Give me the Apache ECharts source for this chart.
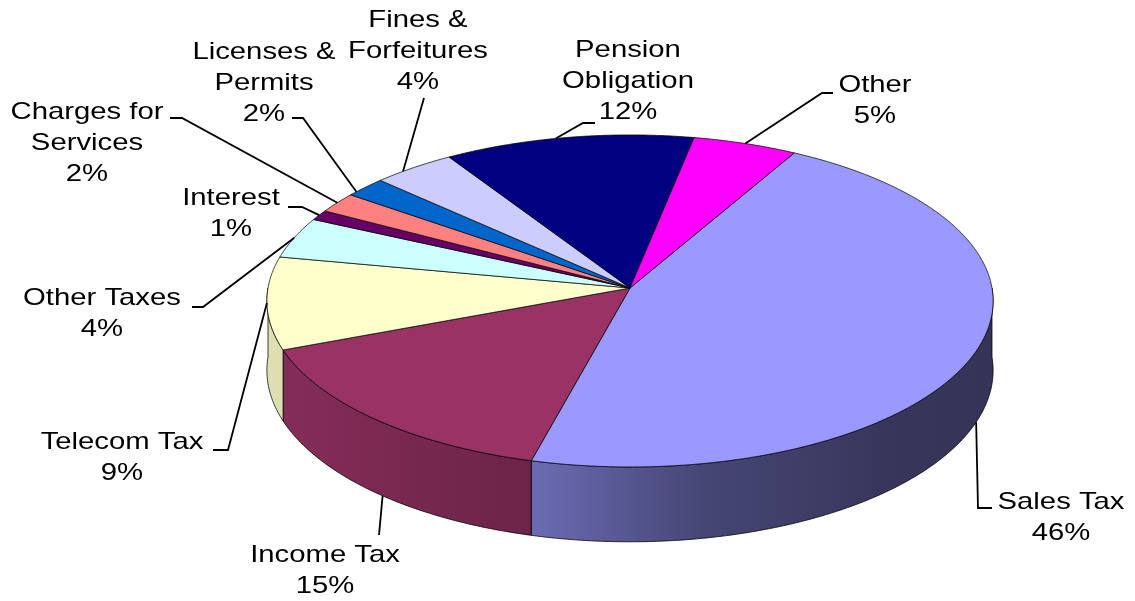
<!DOCTYPE html>
<html>
<head>
<meta charset="utf-8">
<script src="https://cdn.jsdelivr.net/npm/echarts@6/dist/echarts.min.js"></script>
<style>
  html, body { margin: 0; padding: 0; background: #ffffff; }
  #chart { width: 1135px; height: 601px; }
</style>
</head>
<body>
<div id="chart"></div>
<script>
// Revenue sources, share of total (%)
const categories = ['Sales Tax', 'Income Tax', 'Telecom Tax', 'Other Taxes', 'Interest',
  'Charges for Services', 'Licenses & Permits', 'Fines & Forfeitures', 'Pension Obligation', 'Other'];
const shares = [46, 15, 9, 4, 1, 2, 2, 4, 12, 5];
// category names as they wrap in the labels
const labelText = [['Sales Tax'], ['Income Tax'], ['Telecom Tax'], ['Other Taxes'], ['Interest'],
  ['Charges for', 'Services'], ['Licenses &', 'Permits'], ['Fines &', 'Forfeitures'],
  ['Pension', 'Obligation'], ['Other']];

// ---- styling ----
const sliceColors = ['#9999FF', '#993366', '#FFFFCC', '#CCFFFF', '#660066',
  '#FF8080', '#0066CC', '#CCCCFF', '#000080', '#FF00FF'];

// ---- tilted-disc geometry (pixels) ----
const CX = 630, CY = 288;      // projected centre of the disc
const RA = 362, RB = 165;      // horizontal / vertical radii
const K = 0.078;               // perspective: far edge shrinks, near edge grows
const DEPTH = 69;              // thickness of the disc
const START = 61;              // angle (deg, counter-clockwise from 3 o'clock) of the first slice edge

// label placement: centre of the first text line, where the leader leaves the slice,
// position along the slice (0..1) and the bends of the leader line
const labelLayout = [
  { at: [1061, 502], attach: 'bottom', frac: 0.5,  bends: [[978, 508], [992, 508]] },
  { at: [325, 555],  attach: 'bottom', frac: 0.47, bends: [[379, 535]] },
  { at: [122, 442],  attach: 'top',    frac: 0.5,  bends: [[228, 450], [213, 450]] },
  { at: [102, 298],  attach: 'top',    frac: 0.5,  bends: [[203, 307], [192, 307]] },
  { at: [231, 198],  attach: 'top',    frac: 0.5,  bends: [[302, 207], [288, 207]] },
  { at: [87, 112],   attach: 'top',    frac: 0.5,  bends: [[182, 118], [170, 118]] },
  { at: [264, 52],   attach: 'top',    frac: 0.2,  bends: [[303, 118], [292, 118]] },
  { at: [418, 20],   attach: 'top',    frac: 0.35, bends: [[424, 98]] },
  { at: [628, 50],   attach: 'top',    frac: 0.45, bends: [[583, 123], [595, 123]] },
  { at: [875, 85],   attach: 'top',    frac: 0.5,  bends: [[822, 93], [833, 93]] }
];
const LINE_H = 31;

// slice angles from the shares (clockwise from START)
const total = shares.reduce((a, b) => a + b, 0);
const sliceAngles = [];
(function () {
  let a = START;
  shares.forEach(v => {
    const span = v / total * 360;
    sliceAngles.push([a, a - span]);
    a -= span;
  });
})();

function proj(deg, drop) {
  const t = deg * Math.PI / 180;
  const s = 1 / (1 + K * Math.sin(t));
  return [CX + s * RA * Math.cos(t), CY - s * RB * Math.sin(t) + s * (drop || 0)];
}
function arc(from, to, drop) {
  const pts = [];
  const n = Math.max(2, Math.ceil(Math.abs(from - to) / 0.5));
  for (let k = 0; k <= n; k++) pts.push(proj(from + (to - from) * k / n, drop));
  return pts;
}
function shade(hex, f) {
  const n = parseInt(hex.slice(1), 16);
  const r = Math.round(((n >> 16) & 255) * f), g = Math.round(((n >> 8) & 255) * f), b = Math.round((n & 255) * f);
  return 'rgb(' + r + ',' + g + ',' + b + ')';
}
function wallFill(hex) {
  return new echarts.graphic.LinearGradient(265, 0, 995, 0, [
    { offset: 0, color: shade(hex, 0.88) },
    { offset: 0.37, color: shade(hex, 0.70) },
    { offset: 0.6, color: shade(hex, 0.46) },
    { offset: 0.85, color: shade(hex, 0.36) },
    { offset: 1, color: shade(hex, 0.34) }
  ], true);
}

function renderSlice(params) {
  const i = params.dataIndex;
  const [a0, a1] = sliceAngles[i];
  const color = sliceColors[i];
  const children = [];

  // outer wall on the near half of the disc
  const hi = Math.min(a0, 0), lo = Math.max(a1, -180);
  if (hi > lo) {
    const top = arc(hi, lo, 0);
    const bottom = arc(lo, hi, DEPTH);
    children.push({
      type: 'polygon', z2: 1,
      shape: { points: top.concat(bottom) },
      style: { fill: wallFill(color), stroke: 'rgba(0,0,0,0.85)', lineWidth: 0.9 }
    });
  }

  // top face
  children.push({
    type: 'polygon', z2: 2,
    shape: { points: [[CX, CY]].concat(arc(a0, a1, 0)) },
    style: { fill: color, stroke: 'rgba(0,0,0,0.8)', lineWidth: 0.9 }
  });

  // leader line and label
  const lay = labelLayout[i];
  const am = a0 + (a1 - a0) * lay.frac;
  const startPt = proj(am, lay.attach === 'bottom' ? DEPTH : 0);
  children.push({
    type: 'polyline', z2: 3,
    shape: { points: [startPt].concat(lay.bends) },
    style: { stroke: '#000000', lineWidth: 1.8, fill: null }
  });
  const lines = labelText[i].concat([shares[i] + '%']);
  lines.forEach((txt, j) => {
    children.push({
      type: 'text', z2: 4,
      x: lay.at[0], y: lay.at[1] + j * LINE_H,
      scaleX: 1.22,
      style: {
        text: txt, fill: '#000000',
        fontSize: 24, fontFamily: '"Liberation Sans", Arial, sans-serif',
        align: 'center', verticalAlign: 'middle'
      }
    });
  });

  return { type: 'group', children: children };
}

const chart = echarts.init(document.getElementById('chart'), null, { renderer: 'canvas' });
chart.setOption({
  animation: false,
  backgroundColor: '#ffffff',
  series: [{
    type: 'custom',
    coordinateSystem: 'none',
    silent: true,
    data: shares.map((v, i) => ({ name: categories[i], value: [i, v] })),
    renderItem: renderSlice
  }]
});
</script>
</body>
</html>
